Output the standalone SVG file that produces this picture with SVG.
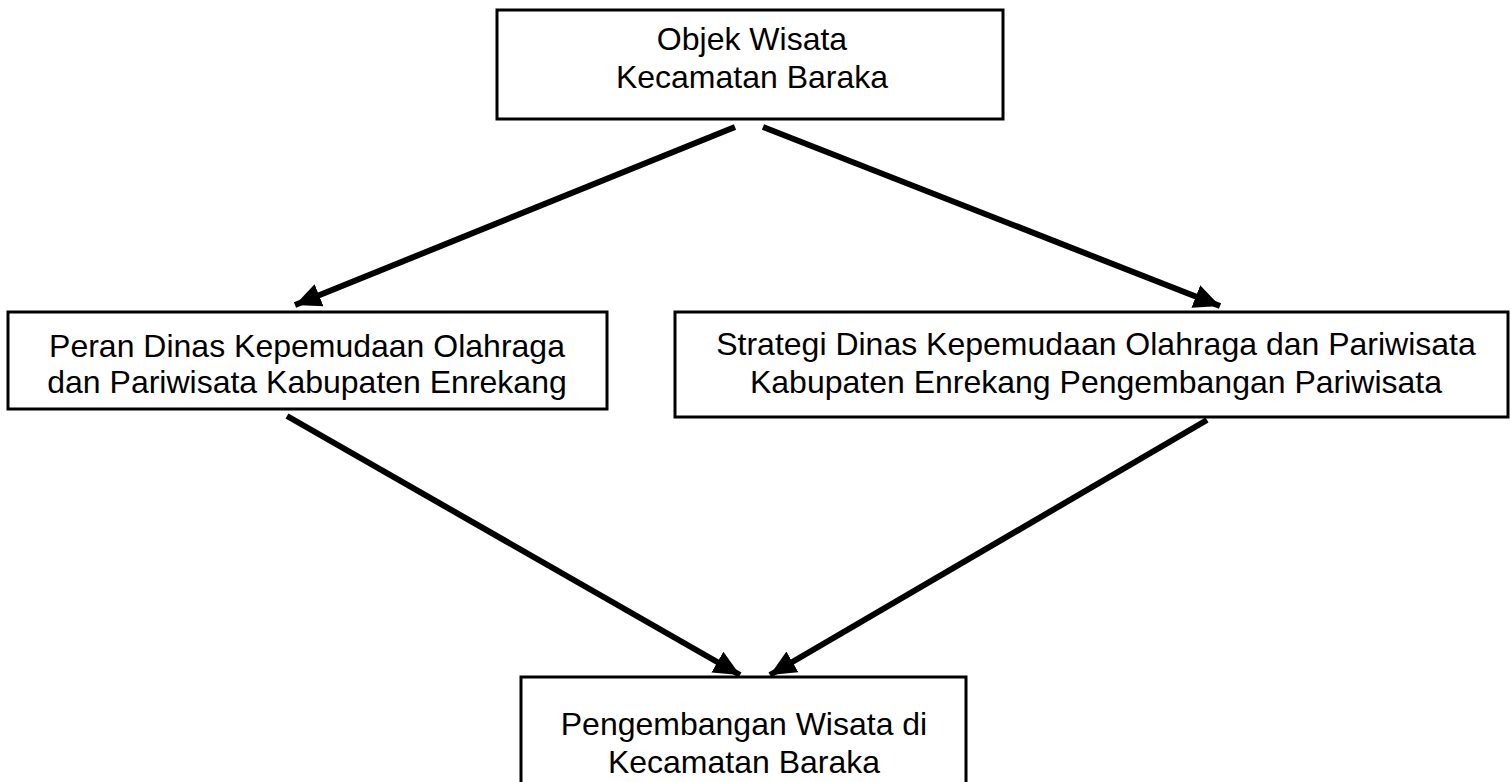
<svg xmlns="http://www.w3.org/2000/svg" width="1510" height="782" viewBox="0 0 1510 782">
<style>
.box{fill:#fff;stroke:#000;stroke-width:3}
.t{font-family:"Liberation Sans",Arial,sans-serif;font-size:32px;fill:#000;text-anchor:middle}
.c{stroke:#000;stroke-width:6;fill:none;marker-end:url(#ah)}
</style>
<defs>
<marker id="ah" markerUnits="userSpaceOnUse" markerWidth="28" markerHeight="24" refX="26" refY="12" orient="auto">
<path d="M0,0 L26,12 L0,24 Z" fill="#000"/>
</marker>
</defs>
<rect width="1510" height="782" fill="#fff"/>
<g id="n1">
<rect class="box" x="497" y="10" width="506" height="109"/>
<text class="t" x="752" y="50">Objek Wisata</text>
<text class="t" x="752" y="88">Kecamatan Baraka</text>
</g>
<g id="n2">
<rect class="box" x="8" y="312" width="599" height="97"/>
<text class="t" x="307" y="357">Peran Dinas Kepemudaan Olahraga</text>
<text class="t" x="307" y="393">dan Pariwisata Kabupaten Enrekang</text>
</g>
<g id="n3">
<rect class="box" x="675" y="312" width="833" height="105"/>
<text class="t" x="1096" y="355">Strategi Dinas Kepemudaan Olahraga dan Pariwisata</text>
<text class="t" x="1096" y="393">Kabupaten Enrekang Pengembangan Pariwisata</text>
</g>
<g id="n4">
<rect class="box" x="521" y="677" width="445" height="110"/>
<text class="t" x="744" y="735">Pengembangan Wisata di</text>
<text class="t" x="744" y="773">Kecamatan Baraka</text>
</g>
<g id="connectors">
<line class="c" x1="735" y1="127" x2="295" y2="305"/>
<line class="c" x1="763" y1="127" x2="1220" y2="306"/>
<line class="c" x1="287" y1="416" x2="740" y2="675"/>
<line class="c" x1="1207" y1="420" x2="770" y2="675"/>
</g>
</svg>
